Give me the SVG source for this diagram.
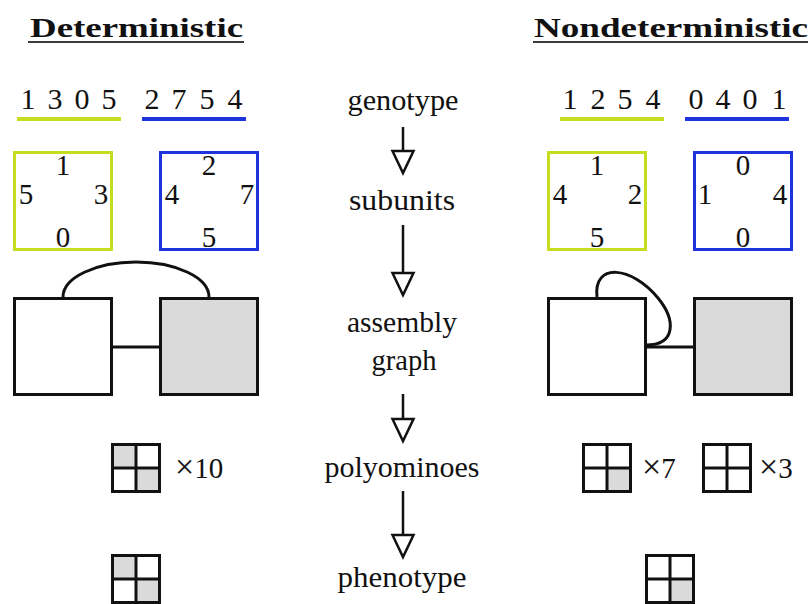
<svg xmlns="http://www.w3.org/2000/svg" xmlns:xlink="http://www.w3.org/1999/xlink" width="810" height="604" viewBox="0 0 810 604">
<style>
  .t { font-family: "Liberation Serif", "Times New Roman", serif; fill: #111; }
  .head { font-size: 27px; font-weight: bold; }
  .dig { font-size: 30px; text-anchor: middle; }
  .sub { font-size: 29px; text-anchor: middle; }
  .lab { font-size: 29px; text-anchor: middle; }
  .cnt { font-size: 29px; }
  .times { font-size: 34px; }
  .uline { stroke: #3a3a3a; stroke-width: 2.2; }
  .lime { stroke: #c6dc1e; }
  .blue { stroke: #1f33dc; }
  .gline { stroke-width: 4; }
  .sq { fill: none; stroke-width: 3; }
  .box { stroke: #111; stroke-width: 3; }
  .white { fill: #fff; }
  .gray { fill: #dadada; }
  .edge { fill: none; stroke: #111; stroke-width: 3; }
  .ashaft { stroke: #111; stroke-width: 2.5; }
  .ahead { fill: #fff; stroke: #111; stroke-width: 2.5; stroke-linejoin: miter; }
  .pframe { fill: none; stroke: #111; stroke-width: 3; }
  .pcell { fill: #dadada; }
</style>
<defs>
  <g id="grid">
    <rect class="pframe" x="0" y="0" width="47" height="47"/>
    <line class="pframe" x1="23.5" y1="0" x2="23.5" y2="47"/>
    <line class="pframe" x1="0" y1="23.5" x2="47" y2="23.5"/>
  </g>
</defs>

<!-- Headings -->
<g id="heading-det">
  <text class="t head" x="30" y="37" textLength="213" lengthAdjust="spacingAndGlyphs">Deterministic</text>
  <line class="uline" x1="28" y1="42" x2="244" y2="42"/>
</g>
<g id="heading-nondet">
  <text class="t head" x="534" y="37" textLength="274" lengthAdjust="spacingAndGlyphs">Nondeterministic</text>
  <line class="uline" x1="533" y1="42" x2="808" y2="42"/>
</g>

<!-- Genotypes -->
<g id="geno-det-a">
  <text class="t dig" x="28" y="109">1</text>
  <text class="t dig" x="55" y="109">3</text>
  <text class="t dig" x="82" y="109">0</text>
  <text class="t dig" x="109" y="109">5</text>
  <line class="lime gline" x1="17" y1="119" x2="121" y2="119"/>
</g>
<g id="geno-det-b">
  <text class="t dig" x="152" y="109">2</text>
  <text class="t dig" x="179" y="109">7</text>
  <text class="t dig" x="207" y="109">5</text>
  <text class="t dig" x="235" y="109">4</text>
  <line class="blue gline" x1="142" y1="119" x2="246" y2="119"/>
</g>
<g id="geno-nd-a">
  <text class="t dig" x="570" y="109">1</text>
  <text class="t dig" x="598" y="109">2</text>
  <text class="t dig" x="625" y="109">5</text>
  <text class="t dig" x="653" y="109">4</text>
  <line class="lime gline" x1="560" y1="119" x2="664" y2="119"/>
</g>
<g id="geno-nd-b">
  <text class="t dig" x="696" y="109">0</text>
  <text class="t dig" x="723" y="109">4</text>
  <text class="t dig" x="750" y="109">0</text>
  <text class="t dig" x="779" y="109">1</text>
  <line class="blue gline" x1="685" y1="119" x2="789" y2="119"/>
</g>

<!-- Subunits -->
<g id="sub-det-a">
  <rect class="sq lime" x="14.5" y="152.5" width="97" height="97"/>
  <text class="t sub" x="63" y="175">1</text>
  <text class="t sub" x="26" y="204">5</text>
  <text class="t sub" x="101" y="204">3</text>
  <text class="t sub" x="63" y="247">0</text>
</g>
<g id="sub-det-b">
  <rect class="sq blue" x="160.5" y="152.5" width="97" height="97"/>
  <text class="t sub" x="209" y="175">2</text>
  <text class="t sub" x="172" y="204">4</text>
  <text class="t sub" x="247" y="204">7</text>
  <text class="t sub" x="209" y="247">5</text>
</g>
<g id="sub-nd-a">
  <rect class="sq lime" x="548.5" y="152.5" width="97" height="97"/>
  <text class="t sub" x="597" y="175">1</text>
  <text class="t sub" x="560" y="204">4</text>
  <text class="t sub" x="635" y="204">2</text>
  <text class="t sub" x="597" y="247">5</text>
</g>
<g id="sub-nd-b">
  <rect class="sq blue" x="694.5" y="152.5" width="97" height="97"/>
  <text class="t sub" x="743" y="175">0</text>
  <text class="t sub" x="705" y="204">1</text>
  <text class="t sub" x="780" y="204">4</text>
  <text class="t sub" x="743" y="247">0</text>
</g>

<!-- Assembly graph connectors -->
<g id="connectors">
  <path class="edge" d="M63,297 A73,35 0 0 1 209,297"/>
  <line class="edge" x1="112" y1="347" x2="160" y2="347"/>
  <path class="edge" d="M597,297 C593,262 632,266 658,298 C676,320 676,345 646,345"/>
  <line class="edge" x1="646" y1="347" x2="694" y2="347"/>
  <!-- central pipeline arrows -->
  <line class="ashaft" x1="403" y1="127" x2="403" y2="151"/>
  <polygon class="ahead" points="392.5,151 413.5,151 403,173"/>
  <line class="ashaft" x1="403" y1="225" x2="403" y2="273"/>
  <polygon class="ahead" points="392.5,273 413.5,273 403,295"/>
  <line class="ashaft" x1="403" y1="394" x2="403" y2="419"/>
  <polygon class="ahead" points="392.5,419 413.5,419 403,441"/>
  <line class="ashaft" x1="403" y1="491" x2="403" y2="535"/>
  <polygon class="ahead" points="392.5,535 413.5,535 403,557"/>
</g>

<!-- Assembly graph nodes -->
<g id="asm-det-a"><rect class="box white" x="14.5" y="298.5" width="97" height="96"/></g>
<g id="asm-det-b"><rect class="box gray" x="160.5" y="298.5" width="97" height="96"/></g>
<g id="asm-nd-a"><rect class="box white" x="548.5" y="298.5" width="97" height="96"/></g>
<g id="asm-nd-b"><rect class="box gray" x="694.5" y="298.5" width="97" height="96"/></g>

<!-- Central labels -->
<g id="lbl-genotype"><text class="t lab" x="403" y="110" textLength="111" lengthAdjust="spacingAndGlyphs">genotype</text></g>
<g id="lbl-subunits"><text class="t lab" x="402" y="210" textLength="106" lengthAdjust="spacingAndGlyphs">subunits</text></g>
<g id="lbl-assembly">
  <text class="t lab" x="402" y="332" textLength="110" lengthAdjust="spacingAndGlyphs">assembly</text>
  <text class="t lab" x="404" y="370" textLength="65" lengthAdjust="spacingAndGlyphs">graph</text>
</g>
<g id="lbl-polyominoes"><text class="t lab" x="402" y="477" textLength="155" lengthAdjust="spacingAndGlyphs">polyominoes</text></g>
<g id="lbl-phenotype"><text class="t lab" x="402" y="587" textLength="129" lengthAdjust="spacingAndGlyphs">phenotype</text></g>

<!-- Polyominoes -->
<g id="poly-det" transform="translate(112.5,444.5)">
  <rect class="pcell" x="0" y="0" width="23.5" height="23.5"/>
  <rect class="pcell" x="23.5" y="23.5" width="23.5" height="23.5"/>
  <use xlink:href="#grid"/>
</g>
<g id="count-det"><text class="t cnt" x="175" y="478"><tspan class="times">×</tspan>10</text></g>
<g id="poly-nd-a" transform="translate(583.5,444.5)">
  <rect class="pcell" x="23.5" y="23.5" width="23.5" height="23.5"/>
  <use xlink:href="#grid"/>
</g>
<g id="count-nd-a"><text class="t cnt" x="642" y="478"><tspan class="times">×</tspan>7</text></g>
<g id="poly-nd-b" transform="translate(703.5,444.5)">
  <use xlink:href="#grid"/>
</g>
<g id="count-nd-b"><text class="t cnt" x="759" y="478"><tspan class="times">×</tspan>3</text></g>

<!-- Phenotypes -->
<g id="pheno-det" transform="translate(112.5,555.5)">
  <rect class="pcell" x="0" y="0" width="23.5" height="23.5"/>
  <rect class="pcell" x="23.5" y="23.5" width="23.5" height="23.5"/>
  <use xlink:href="#grid"/>
</g>
<g id="pheno-nd" transform="translate(646.5,555.5)">
  <rect class="pcell" x="23.5" y="23.5" width="23.5" height="23.5"/>
  <use xlink:href="#grid"/>
</g>
</svg>
